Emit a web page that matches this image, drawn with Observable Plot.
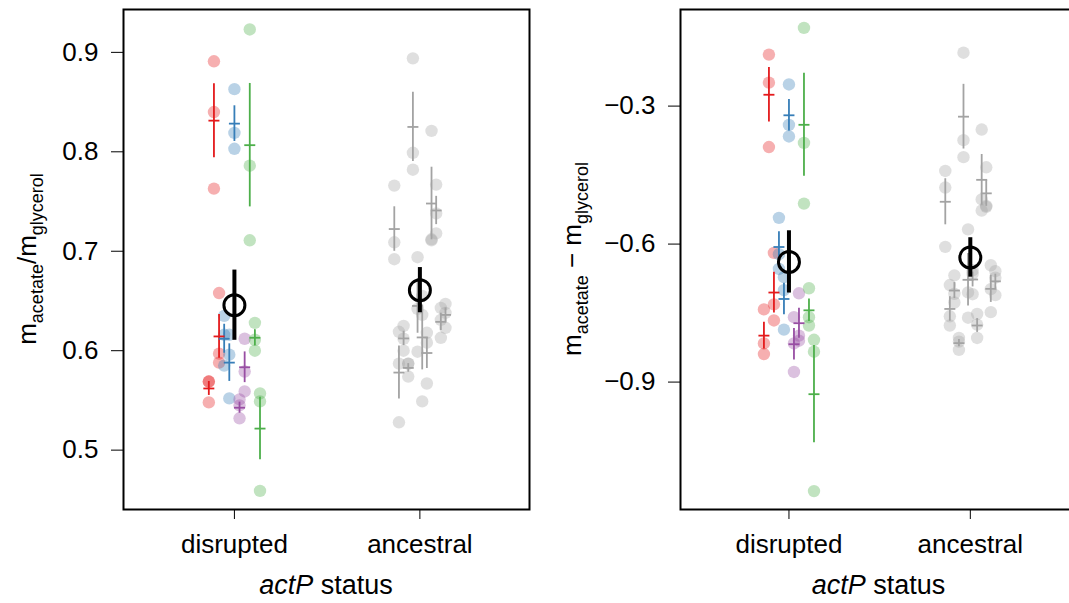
<!DOCTYPE html>
<html><head><meta charset="utf-8">
<script src="https://cdn.jsdelivr.net/npm/d3@7"></script>
<script src="https://cdn.jsdelivr.net/npm/@observablehq/plot@0.6"></script>
<style>
html,body{margin:0;padding:0;background:#fff;overflow:hidden}
#wrap{position:relative;width:1069px;height:603px;overflow:hidden;background:#fff}
#wrap svg{position:absolute;top:0}
</style></head><body><div id="wrap"></div>
<script>
// ---- data ----
const statuses = ["disrupted", "ancestral"];
const families = ["A", "B", "C", "D", "anc"];
// lineage family of each disrupted lineage (in plotted order)
const disruptedFamily = ["A","A","A","B","B","B","D","D","C","C","C"];
const ancestralFamily = ["anc","anc","anc","anc","anc","anc","anc","anc","anc","anc","anc","anc"];

// m_acetate / m_glycerol, three replicates per lineage
const ratioDisrupted = [
  [0.569, 0.569, 0.548], [0.891, 0.840, 0.763], [0.658, 0.597, 0.588],
  [0.635, 0.616, 0.585], [0.616, 0.596, 0.552], [0.863, 0.819, 0.803],
  [0.551, 0.545, 0.532], [0.612, 0.579, 0.559],
  [0.923, 0.786, 0.711], [0.628, 0.611, 0.600], [0.557, 0.549, 0.459]
];
const ratioAncestral = [
  [0.766, 0.709, 0.692], [0.619, 0.587, 0.528], [0.625, 0.612, 0.600],
  [0.587, 0.587, 0.574], [0.894, 0.799, 0.782], [0.694, 0.642, 0.599],
  [0.655, 0.636, 0.549], [0.618, 0.608, 0.567], [0.821, 0.712, 0.711],
  [0.767, 0.738, 0.718], [0.643, 0.631, 0.613], [0.647, 0.638, 0.623]
];
// m_acetate - m_glycerol
const diffDisrupted = [
  [-0.742, -0.816, -0.839], [-0.188, -0.249, -0.389], [-0.619, -0.731, -0.766],
  [-0.543, -0.622, -0.654], [-0.672, -0.700, -0.786], [-0.253, -0.341, -0.366],
  [-0.759, -0.816, -0.878], [-0.707, -0.799, -0.810],
  [-0.130, -0.380, -0.512], [-0.696, -0.759, -0.777], [-0.808, -0.834, -1.137]
];
const diffAncestral = [
  [-0.441, -0.477, -0.606], [-0.689, -0.757, -0.777], [-0.668, -0.708, -0.727],
  [-0.804, -0.812, -0.830], [-0.184, -0.374, -0.411], [-0.568, -0.705, -0.760],
  [-0.657, -0.665, -0.709], [-0.752, -0.775, -0.804], [-0.351, -0.503, -0.527],
  [-0.433, -0.517, -0.519], [-0.646, -0.698, -0.748], [-0.659, -0.673, -0.711]
];
const ratioTicks = [0.5, 0.6, 0.7, 0.8, 0.9];
const diffTicks = [-0.9, -0.6, -0.3];

// ---- layout / style ----
const familyColors = ["#E41A1C", "#377EB8", "#4DAF4A", "#984EA3", "#a3a3a3"];
const xDomain = [-0.598, 1.591];
const spread = 0.276;
const FONT = "'Liberation Sans', Arial, Helvetica, sans-serif";

function build(dis, anc) {
  const points = [], lines = [], overall = [];
  [[dis, disruptedFamily], [anc, ancestralFamily]].forEach(([reps, fam], s) => {
    const n = reps.length;
    const means = [];
    reps.forEach((vals, i) => {
      const x = s + (i / (n - 1) - 0.5) * spread;
      vals.forEach(v => points.push({x, value: v, family: fam[i]}));
      const m = d3.mean(vals), se = d3.deviation(vals) / Math.sqrt(vals.length);
      means.push(m);
      lines.push({x, mean: m, lo: m - se, hi: m + se, family: fam[i]});
    });
    const M = d3.mean(means), SE = d3.deviation(means) / Math.sqrt(means.length);
    overall.push({x: s, mean: M, lo: M - SE, hi: M + SE});
  });
  return {points, lines, overall};
}

const hline = {draw(ctx, size) { const w = Math.sqrt(size / Math.PI); ctx.moveTo(-w, 0); ctx.lineTo(w, 0); }};

function panel(data, yDomain, yTicks, width, marginLeft, marginRight) {
  return Plot.plot({
    width, height: 603, marginTop: 9, marginBottom: 94, marginLeft, marginRight,
    style: {fontSize: "26px", fontFamily: FONT, color: "black", background: "white", overflow: "visible"},
    x: {domain: xDomain, ticks: [0, 1], tickFormat: i => statuses[i], tickSize: 10, tickPadding: 15, label: null},
    y: {domain: yDomain, ticks: yTicks, tickFormat: d3.format(".1f"), tickSize: 12, tickPadding: 13, label: null},
    color: {domain: families, range: familyColors},
    marks: [
      Plot.dot(data.points, {x: "x", y: "value", r: 6.2, fill: "family", fillOpacity: 0.35}),
      Plot.ruleX(data.lines, {x: "x", y1: "lo", y2: "hi", stroke: "family", strokeWidth: 1.8}),
      Plot.dot(data.lines, {x: "x", y: "mean", stroke: "family", symbol: hline, r: 5.5, strokeWidth: 1.8, fill: "none"}),
      Plot.ruleX(data.overall, {x: "x", y1: "lo", y2: "hi", stroke: "black", strokeWidth: 4}),
      Plot.dot(data.overall, {x: "x", y: "mean", r: 10.5, stroke: "black", strokeWidth: 3, fill: "none"}),
      Plot.frame({strokeWidth: 2})
    ]
  });
}

function addLabels(svgEl, parts, plotCx) {
  const svg = d3.select(svgEl);
  const t = svg.append("text")
    .attr("transform", "translate(36,259) rotate(-90)")
    .attr("text-anchor", "middle")
    .style("font-family", FONT).style("font-size", "26px").attr("fill", "black");
  parts.forEach(([txt, sub], k) => {
    t.append("tspan").text(txt).attr("dy", k === 0 ? 0 : (sub ? 7 : -7)).style("font-size", sub ? "18px" : "26px");
  });
  const x = svg.append("text")
    .attr("x", plotCx).attr("y", 594).attr("text-anchor", "middle")
    .style("font-family", FONT).style("font-size", "27px").attr("fill", "black");
  x.append("tspan").text("actP").style("font-style", "italic");
  x.append("tspan").text(" status");
}

const wrap = document.getElementById("wrap");
const left = panel(build(ratioDisrupted, ratioAncestral), [0.4403, 0.9431], ratioTicks, 545, 123, 16);
left.style.left = "0px";
wrap.appendChild(left);
addLabels(left, [["m", false], ["acetate", true], ["/m", false], ["glycerol", true]], 123 + 406 / 2);

const right = panel(build(diffDisrupted, diffAncestral), [-1.177, -0.090], diffTicks, 545, 135, 13);
right.style.left = "545px";
wrap.appendChild(right);
addLabels(right, [["m", false], ["acetate", true], [" \u2212 m", false], ["glycerol", true]], 135 + 397 / 2);
</script></body></html>
